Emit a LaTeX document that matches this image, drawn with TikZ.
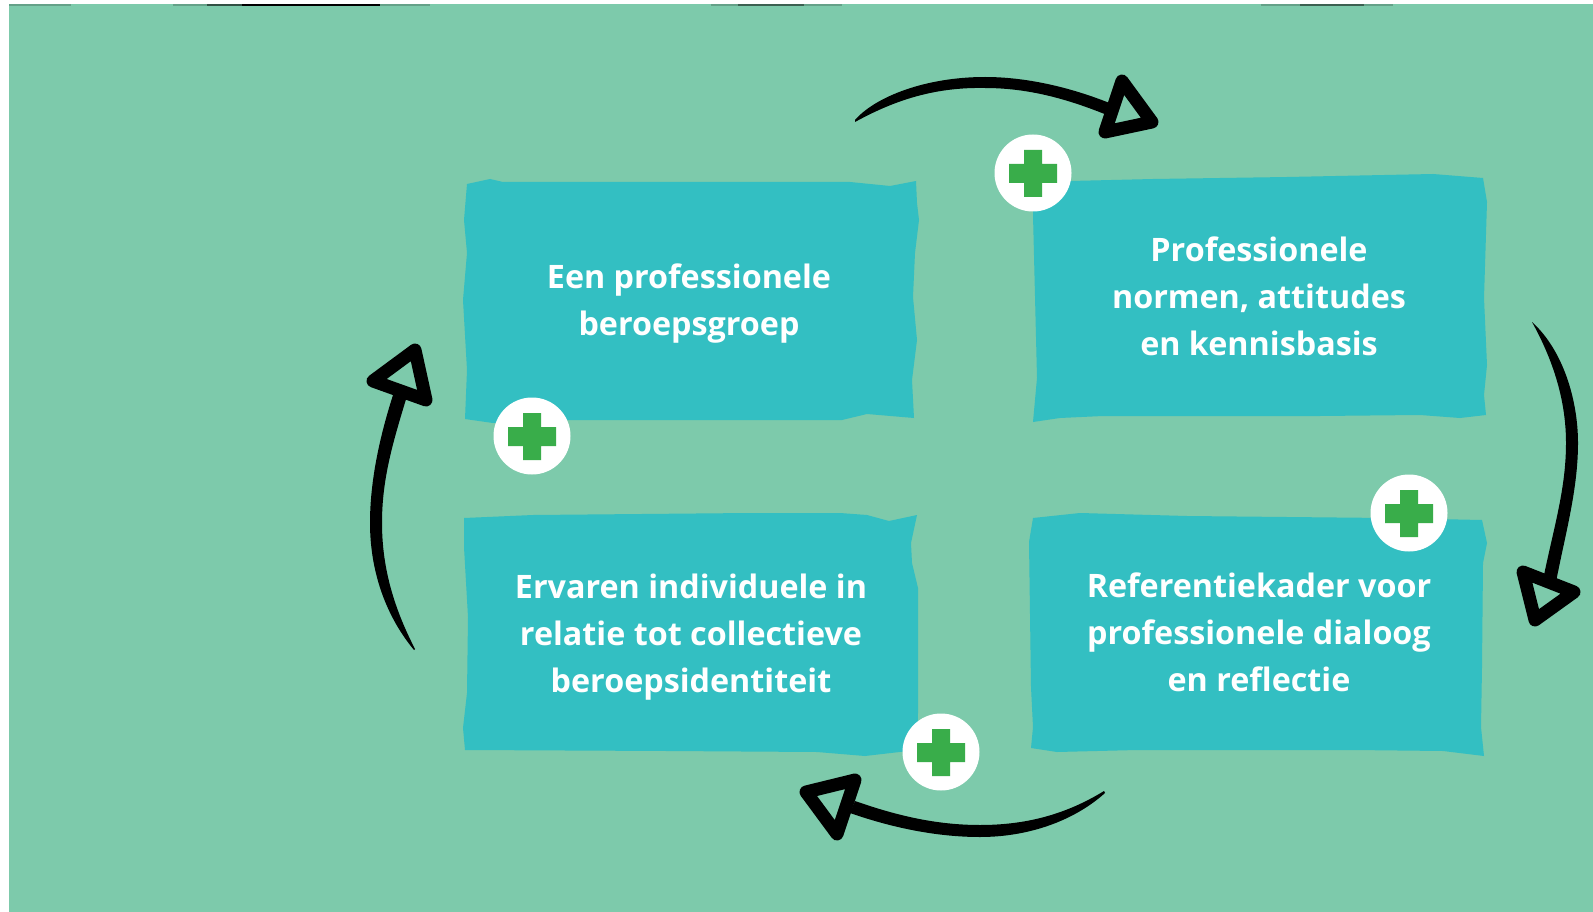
\documentclass[tikz,border=0pt]{standalone}
\usepackage{fontspec}
\setmainfont{Open Sans}
\definecolor{achtergrond}{HTML}{7DCAAB}
\definecolor{vlak}{HTML}{33BFC2}
\definecolor{plusgroen}{HTML}{39AD4A}
\tikzset{
  veld/.style={fill=vlak},
  tekst/.style={text=white,font=\fontsize{32.3}{47}\selectfont\bfseries,align=center,inner sep=0pt},
  pluscirkel/.style={circle,fill=white,minimum size=77,inner sep=0pt,path picture={
    \fill[plusgroen] ([shift={(-9,-23)}]path picture bounding box.center) -- ++(18,0) -- ++(0,14) -- ++(15,0)
      -- ++(0,19) -- ++(-15,0) -- ++(0,14) -- ++(-18,0) -- ++(0,-14) -- ++(-15,0) -- ++(0,-19) -- ++(15,0) -- cycle;}},
  pijlkop/.style={draw=black,line width=13pt,line join=round},
  randje/.style={fill=black,opacity=#1},
}
\begin{document}
\begin{tikzpicture}[x=1pt,y=-1pt]
  \useasboundingbox (0,0) rectangle (1593,912);
  \fill[achtergrond] (9,4) rectangle (1593,912);

  % randjes bovenaan
  \fill[randje=.2] (9,4) rectangle (71,6);
  \fill[randje=.2] (173,4) rectangle (430,6);
  \fill[randje=.5] (207,4) rectangle (380,6);
  \fill[randje=1] (242,4) rectangle (380,6);
  \fill[randje=.2] (711,4) rectangle (842,6);
  \fill[randje=.4] (738,4) rectangle (804,6);
  \fill[randje=.2] (1261,4) rectangle (1393,6);
  \fill[randje=.4] (1300,4) rectangle (1364,6);

  % vlakken
  \fill[veld] (467,184) -- (490,179) -- (503,182) -- (850,182) -- (890,186) -- (916,181) -- (917,203) -- (919,220)
    -- (915,253) -- (913,297) -- (917,340) -- (912,380) -- (914,418) -- (867,414) -- (842,420) -- (570,420)
    -- (493,423) -- (465,419) -- (467,370) -- (463,300) -- (467,253) -- (464,220) -- cycle;
  \fill[veld] (1033,183) -- (1070,181) -- (1153,179) -- (1287,177) -- (1433,174) -- (1483,178) -- (1487,202)
    -- (1484,298) -- (1487,365) -- (1484,395) -- (1486,415) -- (1460,418) -- (1420,415) -- (1320,416)
    -- (1103,416) -- (1060,418) -- (1033,422) -- (1037,378) -- (1033,215) -- cycle;
  \fill[veld] (464,518) -- (533,515) -- (750,513) -- (840,513) -- (867,515) -- (889,521) -- (917,515) -- (911,543)
    -- (912,563) -- (918,588) -- (918,713) -- (917,750) -- (865,756) -- (817,752) -- (667,751) -- (465,750)
    -- (463,728) -- (467,693) -- (468,617) -- (464,547) -- cycle;
  \fill[veld] (1033,518) -- (1080,513) -- (1187,516) -- (1387,518) -- (1482,520) -- (1487,543) -- (1483,563)
    -- (1482,667) -- (1481,727) -- (1484,756) -- (1443,751) -- (1353,750) -- (1137,750) -- (1057,752)
    -- (1031,748) -- (1033,727) -- (1031,687) -- (1029,542) -- cycle;

  \node[tekst] (beroepsgroep) at (689,304) {Een professionele\\beroepsgroep};
  \node[tekst] (normen) at (1259,296) {Professionele\\normen, attitudes\\en kennisbasis};
  \node[tekst] (identiteit) at (691,637) {Ervaren individuele in\\relatie tot collectieve\\beroepsidentiteit};
  \node[tekst] (dialoog) at (1259,632.5) {Referentiekader voor\\professionele dialoog\\en reflectie};

  \node[pluscirkel] (plusnormen) at (1033,173) {};
  \node[pluscirkel] (plusdialoog) at (1409,513) {};
  \node[pluscirkel] (plusidentiteit) at (941,752) {};
  \node[pluscirkel] (plusgroep) at (532,436) {};

  % pijlen met de klok mee
  \fill (855,120) .. controls (875,97) and (925,77) .. (985,77) .. controls (1030,77) and (1075,89) .. (1112,104)
    -- (1107,115) .. controls (1070,100) and (1030,88) .. (985,88) .. controls (935,87) and (895,100) .. (855,122) -- cycle;
  \draw[pijlkop] (1122,81) -- (1152,122) -- (1105,132) -- cycle;

  \fill (1532,322) .. controls (1563,350) and (1578,400) .. (1578,443) .. controls (1578,490) and (1565,535) .. (1556,582)
    -- (1543,580) .. controls (1553,530) and (1566,490) .. (1566,443) .. controls (1566,400) and (1553,360) .. (1532,322) -- cycle;
  \draw[pijlkop] (1523,572) -- (1574,592) -- (1535,620) -- cycle;

  \fill (1104,791) .. controls (1065,815) and (1025,825) .. (980,825) .. controls (935,825) and (895,815) .. (855,801)
    -- (850,813) .. controls (890,827) and (935,837) .. (980,837) .. controls (1030,837) and (1075,820) .. (1105,793) -- cycle;
  \draw[pijlkop] (855,780) -- (806,792) -- (837,834) -- cycle;

  \fill (414,650) .. controls (385,615) and (370,570) .. (370,523) .. controls (370,480) and (380,435) .. (394,392)
    -- (407,396) .. controls (392,445) and (382,480) .. (382,523) .. controls (382,570) and (395,610) .. (415,649) -- cycle;
  \draw[pijlkop] (415,350) -- (373,381) -- (426,400) -- cycle;
\end{tikzpicture}
\end{document}
